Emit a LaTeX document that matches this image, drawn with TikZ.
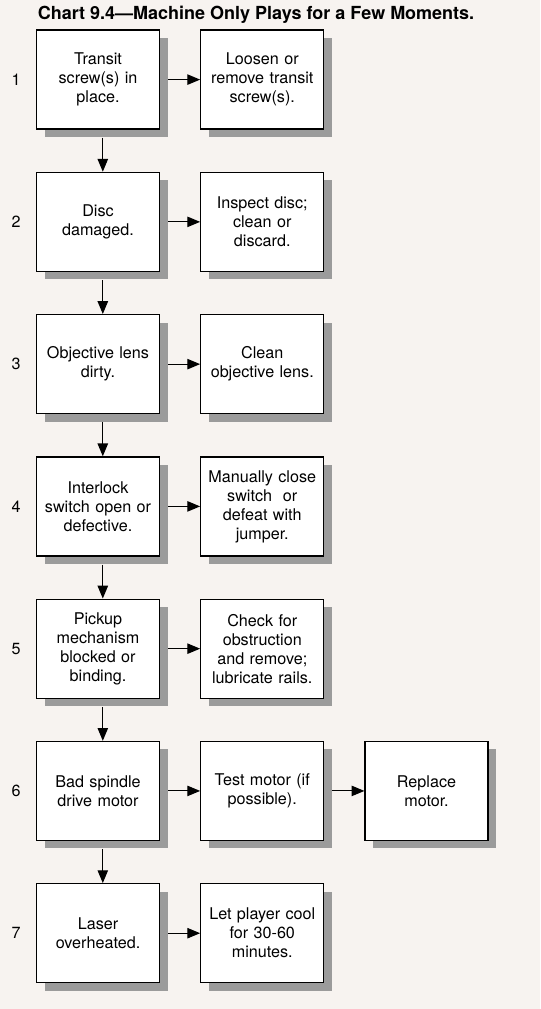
\documentclass[tikz,border=0pt]{standalone}
\usepackage{fontspec}
\setmainfont{TeX Gyre Heros}
\usepackage{xcolor}
\usetikzlibrary{arrows.meta, positioning, shadows}
\definecolor{paper}{RGB}{247,243,240}
\definecolor{shade}{RGB}{155,155,155}

\begin{document}
\begin{tikzpicture}[node distance=10.5mm and 10mm,
    every node/.style={font=\fontsize{11.5}{13.5}\selectfont},
    box/.style={draw, line width=0.9pt, fill=white, minimum width=30.75mm, minimum height=24.75mm,
      text width=29mm, align=center, inner sep=1pt,
      drop shadow={shadow xshift=2mm, shadow yshift=-2mm, fill=shade, opacity=1}},
    num/.style={left=2.6mm of #1},
    go/.style={-{Triangle[length=3.2mm,width=2.6mm]}, line width=0.8pt}]
  \fill[paper] (0,0) rectangle (135mm,-252.25mm);
  \useasboundingbox (0,0) rectangle (135mm,-252.25mm);

  \node[font=\fontsize{12.8}{14}\selectfont\bfseries] (title) at (64mm,-3.6mm) {Chart 9.4---Machine Only Plays for a Few Moments.};

  % causes
  \node[box] (c1) at (24.5mm,-19.9mm) {Transit\\screw(s) in\\place.};
  \node[box,below=of c1] (c2) {Disc\\damaged.};
  \node[box,below=of c2] (c3) {Objective lens\\dirty.};
  \node[box,below=of c3] (c4) {Interlock\\switch open or\\defective.};
  \node[box,below=of c4] (c5) {Pickup\\mechanism\\blocked or\\binding.};
  \node[box,below=of c5] (c6) {Bad spindle\\drive motor};
  \node[box,below=of c6] (c7) {Laser\\overheated.};

  % remedies
  \node[box,right=of c1] (r1) {Loosen or\\remove transit\\screw(s).};
  \node[box,right=of c2] (r2) {Inspect disc;\\clean or\\discard.};
  \node[box,right=of c3] (r3) {Clean\\objective lens.};
  \node[box,right=of c4] (r4) {Manually close\\switch~ or\\defeat with\\jumper.};
  \node[box,right=of c5] (r5) {Check for\\obstruction\\and remove;\\lubricate rails.};
  \node[box,right=of c6] (r6) {Test motor (if\\possible).};
  \node[box,right=of c7] (r7) {Let player cool\\for 30-60\\minutes.};
  \node[box,right=of r6] (m6) {Replace\\motor.};

  % row numbers
  \node[num=c1] (n1) {1};
  \node[num=c2] (n2) {2};
  \node[num=c3] (n3) {3};
  \node[num=c4] (n4) {4};
  \node[num=c5] (n5) {5};
  \node[num=c6] (n6) {6};
  \node[num=c7] (n7) {7};

  % arrows
  \foreach \i in {1,...,7}
    \draw[go] ([xshift=2mm]c\i.east) -- (r\i.west);
  \foreach \i/\j in {1/2,2/3,3/4,4/5,5/6,6/7}
    \draw[go] ([xshift=1.2mm,yshift=-2mm]c\i.south) -- ([xshift=1.2mm]c\j.north);
  \draw[go] ([xshift=2mm]r6.east) -- (m6.west);
\end{tikzpicture}
\end{document}
